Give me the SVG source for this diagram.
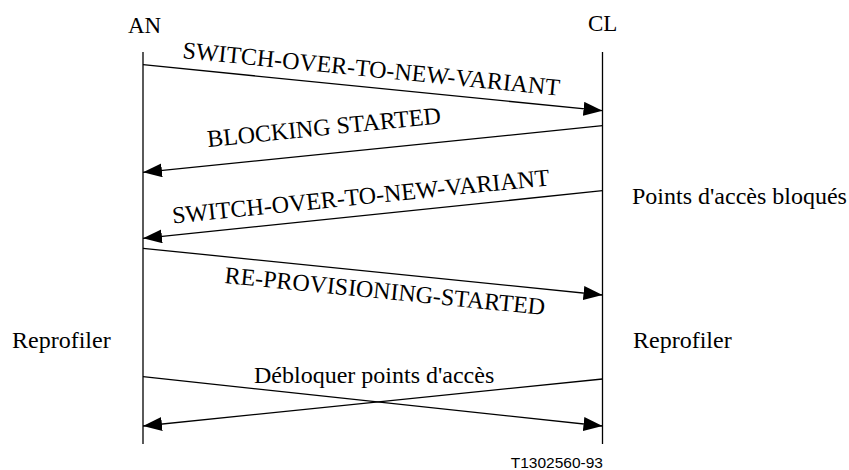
<svg xmlns="http://www.w3.org/2000/svg" width="849" height="470" viewBox="0 0 849 470">
<style>
text{font-family:'Liberation Serif','Times New Roman','DejaVu Serif',serif;font-size:24px;fill:#000}
.hdr{font-size:23px}
.ref{font-family:'Liberation Sans',Arial,sans-serif;font-size:15.5px}
.life{stroke:#000;stroke-width:1.3;fill:none}
.msg{stroke:#000;stroke-width:1.3;fill:none;marker-end:url(#ah)}
</style>
<defs>
<marker id="ah" markerUnits="userSpaceOnUse" markerWidth="20" markerHeight="16" refX="19" refY="7" orient="auto">
<path d="M0,0 L19,7 L0,14 z" fill="#000"/>
</marker>
</defs>
<g id="AN">
<text class="hdr" x="128" y="33" font-family="Liberation Serif, serif">AN</text>
<line class="life" x1="143" y1="52" x2="143" y2="444"/>
<text x="12" y="348" font-family="Liberation Serif, serif">Reprofiler</text>
</g>
<g id="CL">
<text class="hdr" x="588" y="31" font-family="Liberation Serif, serif">CL</text>
<line class="life" x1="602.5" y1="52" x2="602.5" y2="444"/>
<text x="632" y="204" font-family="Liberation Serif, serif">Points d'accès bloqués</text>
<text x="633" y="348" font-family="Liberation Serif, serif">Reprofiler</text>
</g>
<g id="connectors">
<line class="msg" x1="143" y1="64.7" x2="602.5" y2="110.7"/>
<line class="msg" x1="602.5" y1="125.7" x2="143" y2="172.3"/>
<line class="msg" x1="602.5" y1="190.7" x2="143" y2="238.3"/>
<line class="msg" x1="143" y1="248.3" x2="602.5" y2="295"/>
<line class="msg" x1="143" y1="376.7" x2="602.5" y2="426"/>
<line class="msg" x1="602.5" y1="379" x2="143" y2="426"/>
</g>
<g id="labels" font-family="Liberation Serif, serif">
<text x="182" y="58" transform="rotate(5.7 182 58)">SWITCH-OVER-TO-NEW-VARIANT</text>
<text x="208" y="147" transform="rotate(-5.8 208 147)">BLOCKING STARTED</text>
<text x="173" y="223.5" transform="rotate(-5.8 173 223.5)">SWITCH-OVER-TO-NEW-VARIANT</text>
<text x="224" y="283" transform="rotate(5.7 224 283)">RE-PROVISIONING-STARTED</text>
<text x="254" y="383">Débloquer points d'accès</text>
</g>
<text class="ref" x="603" y="468" text-anchor="end">T1302560-93</text>
</svg>
